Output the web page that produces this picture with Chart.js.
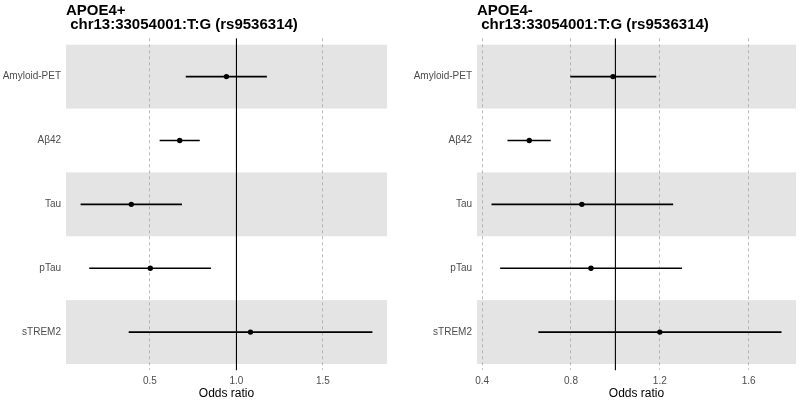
<!DOCTYPE html>
<html><head><meta charset="utf-8">
<script src="https://cdn.jsdelivr.net/npm/chart.js@4"></script>
<style>
html,body{margin:0;padding:0;background:#fff;}
.wrap{position:absolute;top:0;width:400px;height:402px;}
canvas{display:block;}
</style>
</head><body>
<div class="wrap" style="left:0"><canvas id="c1" width="400" height="402"></canvas></div>
<div class="wrap" style="left:400px"><canvas id="c2" width="400" height="402"></canvas></div>
<script>
const categories = ['Amyloid-PET', 'Aβ42', 'Tau', 'pTau', 'sTREM2'];

const posTitle = ['APOE4+', ' chr13:33054001:T:G (rs9536314)'];
const posOR   = [0.942, 0.672, 0.392, 0.502, 1.081];
const posLow  = [0.707, 0.556, 0.099, 0.149, 0.377];
const posHigh = [1.176, 0.788, 0.685, 0.853, 1.786];
const posTicks = [0.5, 1.0, 1.5];

const negTitle = ['APOE4-', ' chr13:33054001:T:G (rs9536314)'];
const negOR   = [0.989, 0.612, 0.849, 0.890, 1.200];
const negLow  = [0.797, 0.514, 0.442, 0.481, 0.653];
const negHigh = [1.184, 0.709, 1.260, 1.300, 1.748];
const negTicks = [0.4, 0.8, 1.2, 1.6];

const refValue = 1.0;
const xLabel = 'Odds ratio';

const FONT = "'Liberation Sans', Arial, Helvetica, sans-serif";

const bandPlugin = {
  id: 'bands',
  beforeDraw(chart) {
    const {ctx, chartArea: a, scales: {y}} = chart;
    ctx.save();
    ctx.fillStyle = '#e4e4e4';
    categories.forEach((c, i) => {
      if (i % 2 === 0) {
        const t = y.getPixelForValue(i + 0.5), b = y.getPixelForValue(i + 1.5);
        ctx.fillRect(a.left, Math.min(t, b), a.right - a.left, Math.abs(b - t));
      }
    });
    ctx.restore();
  }
};

function makePanel(id, titleLines, orVals, lows, highs, tickVals, yWidth, padRight) {
  const lo = Math.min(...lows), hi = Math.max(...highs);
  const pad = (hi - lo) * 0.05;
  const yMin = 0.4, yMax = categories.length + 0.6;
  const ciSets = categories.map((c, i) => ({
    type: 'scatter', showLine: true,
    data: [{x: lows[i], y: i + 1}, {x: highs[i], y: i + 1}],
    borderColor: '#000', borderWidth: 1.6, pointRadius: 0, order: 2
  }));
  const refSet = {
    type: 'scatter', showLine: true,
    data: [{x: refValue, y: yMin}, {x: refValue, y: yMax}],
    borderColor: '#000', borderWidth: 1.1, pointRadius: 0, order: 3
  };
  const ptSet = {
    type: 'scatter',
    data: orVals.map((v, i) => ({x: v, y: i + 1})),
    backgroundColor: '#000', borderWidth: 0, pointRadius: 2.7, order: 1
  };
  new Chart(document.getElementById(id), {
    type: 'scatter',
    data: {datasets: [refSet, ...ciSets, ptSet]},
    plugins: [bandPlugin],
    options: {
      responsive: false, animation: false,
      layout: {padding: {left: 0, right: padRight, top: 0, bottom: 0}},
      plugins: {
        legend: {display: false}, tooltip: {enabled: false},
        title: {
          display: true, text: titleLines, align: 'start', fullSize: false,
          color: '#000',
          font: {family: FONT, size: 15, weight: 'bold', lineHeight: 0.98},
          padding: {top: 3.3, bottom: 5.6}
        }
      },
      scales: {
        x: {
          type: 'linear', position: 'bottom',
          min: lo - pad, max: hi + pad,
          afterBuildTicks: s => { s.ticks = tickVals.map(v => ({value: v})); },
          afterFit: s => { s.height = 31.6; },
          ticks: {
            callback: v => Number(v).toFixed(1),
            font: {family: FONT, size: 10}, color: '#4d4d4d',
            padding: 4.5, maxRotation: 0, autoSkip: false
          },
          grid: {color: '#a8a8a8', lineWidth: 0.8, drawTicks: false},
          border: {display: false, dash: [3, 3]},
          title: {
            display: true, text: xLabel, color: '#000',
            font: {family: FONT, size: 12},
            padding: {top: 0, bottom: 0.8}
          }
        },
        y: {
          type: 'linear', reverse: true, min: yMin, max: yMax,
          afterBuildTicks: s => { s.ticks = categories.map((c, i) => ({value: i + 1})); },
          afterFit: s => { s.width = yWidth; },
          ticks: {
            callback: v => categories[Math.round(v) - 1],
            font: {family: FONT, size: 10}, color: '#4d4d4d',
            padding: 5, autoSkip: false
          },
          grid: {display: false, drawTicks: false},
          border: {display: false}
        }
      }
    }
  });
}

makePanel('c1', posTitle, posOR, posLow, posHigh, posTicks, 66, 13);
makePanel('c2', negTitle, negOR, negLow, negHigh, negTicks, 77, 2);
</script>
</body></html>
